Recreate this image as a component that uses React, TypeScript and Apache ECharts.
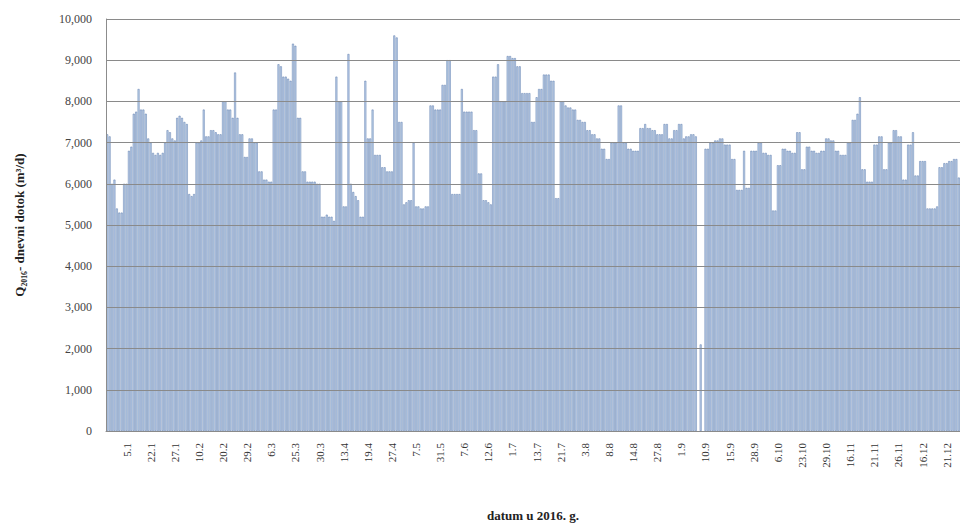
import React, { useEffect, useRef } from "react";
import * as echarts from "echarts";

const tickLabels = [
  "5.1", "22.1", "27.1", "10.2", "20.2", "29.2", "6.3", "25.3", "30.3", "13.4",
  "19.4", "27.4", "7.5", "31.5", "7.6", "12.6", "1.7", "13.7", "21.7", "3.8",
  "8.8", "14.8", "27.8", "1.9", "10.9", "15.9", "28.9", "6.10", "23.10", "29.10",
  "16.11", "21.11", "26.11", "16.12", "21.12",
];

const yTicks = [0, 1000, 2000, 3000, 4000, 5000, 6000, 7000, 8000, 9000, 10000];

const inflow: (number | null)[] = [
  7200, 7150, 6000, 6100, 5400, 5300, 5300, 6000, 6000, 6800,
  6900, 7700, 7750, 8300, 7800, 7800, 7700, 7100, 7000, 6750,
  6700, 6750, 6700, 6750, 7000, 7300, 7250, 7100, 7050, 7600,
  7650, 7600, 7500, 7450, 5750, 5700, 5750, 7000, 7000, 7050,
  7800, 7150, 7150, 7300, 7300, 7250, 7200, 7200, 8000, 8000,
  7800, 7800, 7600, 8700, 7600, 7200, 7200, 6650, 6650, 7100,
  7100, 7000, 7000, 6300, 6300, 6100, 6100, 6050, 6050, 7800,
  7800, 8900, 8850, 8600, 8600, 8550, 8500, 9400, 9350, 7600,
  7600, 6300, 6300, 6050, 6050, 6050, 6050, 6000, 6000, 5200,
  5200, 5250, 5200, 5200, 5100, 8600, 8000, 8000, 5450, 5450,
  9150, 6000, 5800, 5700, 5600, 5200, 5200, 8500, 7100, 7100,
  7800, 6700, 6700, 6700, 6400, 6400, 6300, 6300, 6300, 9600,
  9550, 7500, 7500, 5500, 5550, 5600, 5600, 7000, 5450, 5450,
  5400, 5400, 5450, 5450, 7900, 7900, 7800, 7800, 7800, 8400,
  8400, 9000, 9000, 5750, 5750, 5750, 5750, 8300, 7750, 7750,
  7750, 7750, 7300, 7300, 6250, 6250, 5600, 5600, 5550, 5500,
  8600, 8600, 8900, 8000, 8000, 8000, 9100, 9100, 9050, 9050,
  8850, 8850, 8200, 8200, 8200, 8200, 7500, 7500, 8100, 8300,
  8300, 8650, 8650, 8650, 8500, 8500, 5650, 5650, 8000, 8000,
  7900, 7850, 7850, 7800, 7800, 7550, 7550, 7500, 7500, 7300,
  7300, 7200, 7200, 7100, 7100, 6850, 6850, 6600, 6600, 7000,
  7000, 7000, 7900, 7900, 7000, 7000, 6850, 6850, 6800, 6800,
  6800, 7350, 7350, 7450, 7350, 7350, 7300, 7300, 7200, 7200,
  7200, 7450, 7450, 7100, 7100, 7300, 7300, 7450, 7450, 7100,
  7150, 7150, 7200, 7200, 7150, null, 2100, null, 6850, 6850,
  7000, 7000, 7050, 7050, 7100, 7100, 6950, 6950, 6950, 6600,
  6600, 5850, 5850, 5850, 6800, 5900, 5900, 6800, 6800, 6800,
  7000, 7000, 6750, 6750, 6700, 6700, 5350, 5350, 6450, 6450,
  6850, 6850, 6800, 6800, 6750, 6750, 7250, 7250, 6350, 6350,
  6900, 6900, 6800, 6800, 6750, 6750, 6800, 6800, 7100, 7100,
  7050, 7050, 6800, 6800, 6700, 6700, 6700, 7000, 7000, 7550,
  7550, 7700, 8100, 6350, 6350, 6050, 6050, 6050, 6950, 6950,
  7150, 7150, 6350, 6350, 7000, 7000, 7300, 7300, 7150, 7150,
  6100, 6100, 6950, 6950, 7250, 6200, 6200, 6550, 6550, 6550,
  5400, 5400, 5400, 5400, 5450, 6400, 6400, 6500, 6500, 6550,
  6550, 6600, 6600, 6150,
];

const LABEL_START = 8;
const LABEL_STEP = 10;

const categories: string[] = inflow.map((_, i) => {
  const k = (i - LABEL_START) / LABEL_STEP;
  return Number.isInteger(k) && k >= 0 && k < tickLabels.length ? tickLabels[k] : "";
});

const SERIF = "'Liberation Serif', 'Times New Roman', serif";

export default function App() {
  const ref = useRef<HTMLDivElement>(null);
  useEffect(() => {
    if (!ref.current) return;
    const chart = echarts.init(ref.current, null, { renderer: "svg" });
    chart.setOption({
      animation: false,
      backgroundColor: "#ffffff",
      grid: { left: 106, right: 0, top: 19, bottom: 94, containLabel: false },
      xAxis: {
        type: "category",
        data: categories,
        boundaryGap: true,
        name: "datum u 2016. g.",
        nameLocation: "middle",
        nameGap: 78,
        nameTextStyle: { fontFamily: SERIF, fontWeight: "bold", fontSize: 13, color: "#222" },
        axisLine: { show: true, lineStyle: { color: "#8c8c8c", width: 1 } },
        axisTick: { show: false },
        axisLabel: {
          interval: (i: number) => (i - LABEL_START) % LABEL_STEP === 0 && i >= LABEL_START,
          rotate: 90,
          margin: 12,
          fontFamily: SERIF,
          fontSize: 11,
          color: "#333",
        },
        splitLine: { show: false },
      },
      yAxis: {
        type: "value",
        min: 0,
        max: 10000,
        interval: 1000,
        z: 3,
        name: "Q\u2082\u2080\u2081\u2086- dnevni dotok (m\u00b3/d)",
        nameLocation: "middle",
        nameGap: 80,
        nameRotate: 90,
        nameTextStyle: { fontFamily: SERIF, fontWeight: "bold", fontSize: 13, color: "#222" },
        axisLine: { show: true, lineStyle: { color: "#8c8c8c", width: 1 } },
        axisTick: { show: false },
        axisLabel: {
          fontFamily: SERIF,
          fontSize: 12,
          color: "#444",
          margin: 14,
          formatter: (v: number) => (yTicks.includes(v) ? v.toLocaleString("en-US") : ""),
        },
        splitLine: { show: true, lineStyle: { color: "#8a8a8a", width: 1 } },
      },
      series: [
        {
          type: "bar",
          data: inflow,
          barCategoryGap: "22%",
          itemStyle: {
            color: "#c2d4ec",
            borderColor: "#4d6ea3",
            borderWidth: 0.45,
          },
        },
      ],
    });
    return () => chart.dispose();
  }, []);
  return (
    <div
      ref={ref}
      style={{ position: "fixed", left: 0, top: 0, width: 960, height: 527, background: "#fff" }}
    />
  );
}
